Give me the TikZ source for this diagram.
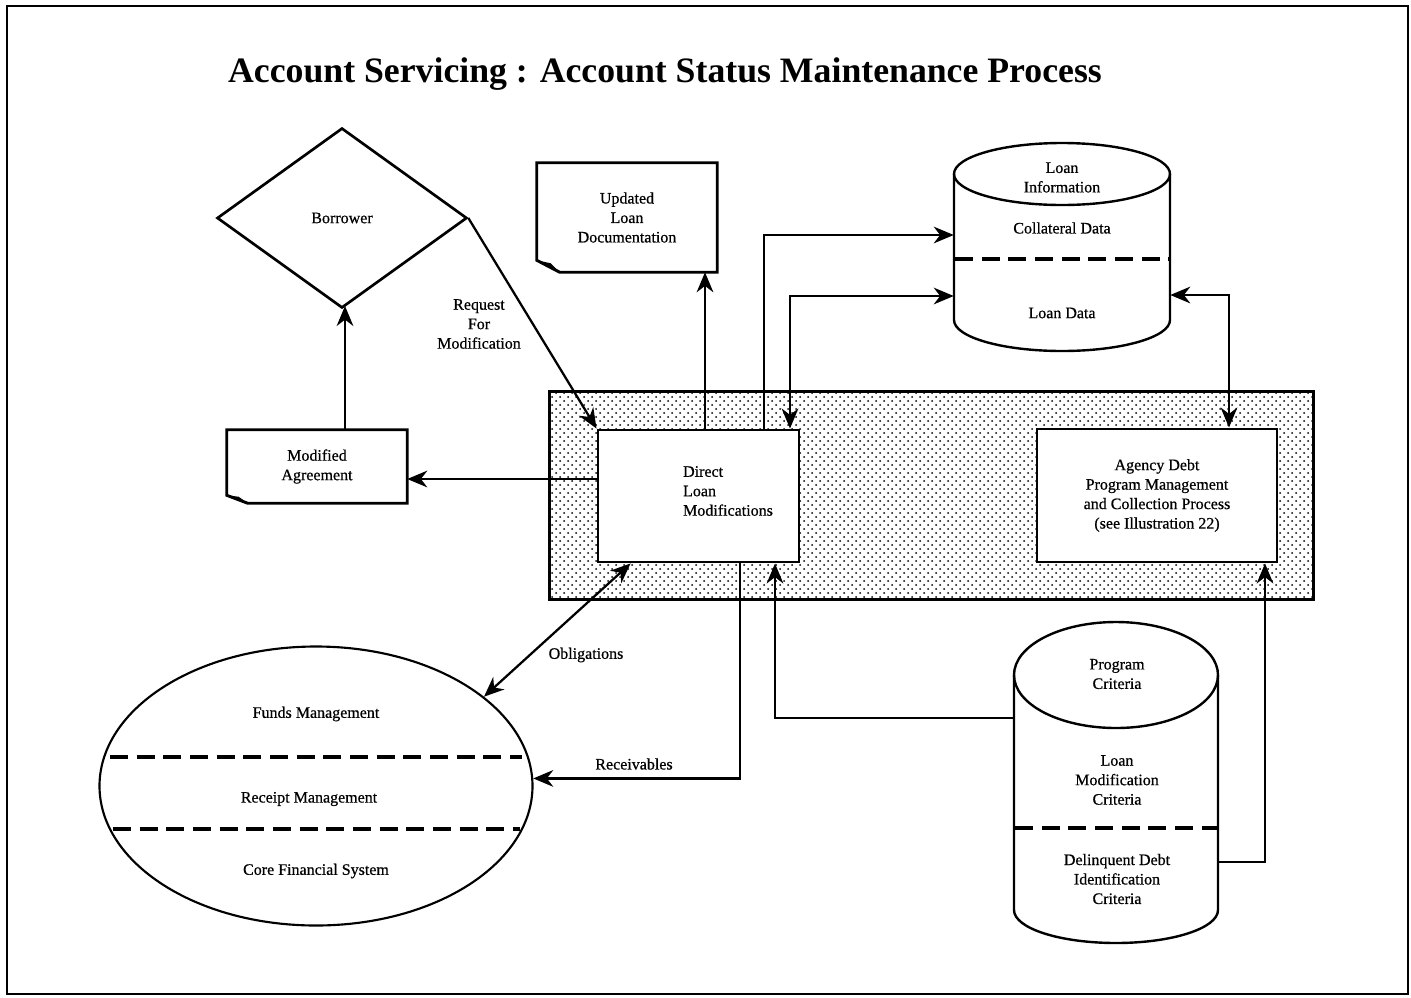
\documentclass[tikz,border=0pt]{standalone}
\usepackage{fontspec}
\setmainfont{Liberation Serif}
\newfontfamily\bodyfont{Liberation Serif}[FakeBold=0.6]
\usetikzlibrary{arrows.meta,shapes.geometric,patterns.meta,calc}
\def\pxu{0.75pt}
\tikzset{
  bt/.tip={Stealth[length=15pt,width=12.5pt,inset=4.8pt]},
  arr/.style={line width=1.7pt,-bt},
  darr/.style={line width=1.7pt,bt-bt},
  procbox/.style={draw,line width=2.2pt,fill=white,inner sep=0pt},
  docn/.style={draw=none,fill=white,inner sep=0pt,align=center},
  docline/.style={line width=2.2pt,line join=miter},
  cylline/.style={line width=1.8pt},
  sepline/.style={line width=3pt,dash pattern=on 13.5pt off 6.5pt},
  lbl/.style={align=center},
}
\begin{document}
\begin{tikzpicture}[x=0.75pt,y=-0.75pt,
  every node/.style={font=\bodyfont\fontsize{12}{14.6}\selectfont,inner sep=0pt}]
\useasboundingbox (0,0) rectangle (1411,997);
\draw[line width=1.1pt] (7,6) rectangle (1408,994);

% title
\node[font=\rmfamily\bfseries\fontsize{26.8}{30}\selectfont] (title) at (665,74)
  {Account Servicing : Account Status Maintenance Process};

% shaded process zone
\node[draw=none,minimum width=763*\pxu,minimum height=207*\pxu] (zone) at (931.5,495.5) {};
\path[pattern={Dots[distance=6pt,radius=0.75pt]}] (zone.north west) rectangle (zone.south east);
\path[pattern={Dots[distance=6pt,radius=0.75pt,xshift=3pt,yshift=3pt]}] (zone.north west) rectangle (zone.south east);
\draw[line width=2.2pt] (zone.north west) rectangle (zone.south east);

% process boxes
\node[procbox,minimum width=201*\pxu,minimum height=132*\pxu] (dlm) at (698.5,496) {};
\node[align=left] (dlmt) at (728,491) {Direct\\Loan\\Modifications};
\node[procbox,minimum width=240*\pxu,minimum height=133*\pxu,align=center] (adp) at (1157,495.5)
  {Agency Debt\\Program Management\\and Collection Process\\(see Illustration 22)};

% borrower
\node[diamond,draw,line width=2pt,minimum width=250*\pxu,minimum height=180*\pxu] (bor) at (342,218) {Borrower};

% documents
\node[docn,minimum width=180*\pxu,minimum height=109*\pxu] (upd) at (627,217.5) {Updated\\Loan\\Documentation};
\draw[docline] (upd.north west) -- (upd.north east) -- (upd.south east) -- ($(upd.south west)+(23,0)$) -- ($(upd.south west)+(0,-12)$) -- cycle;
\fill ($(upd.south west)+(0,-12)$) -- ($(upd.south west)+(14,-9)$) -- ($(upd.south west)+(23,0)$) -- cycle;

\node[docn,minimum width=180*\pxu,minimum height=73*\pxu] (mod) at (317,466.5) {Modified\\Agreement};
\draw[docline] (mod.north west) -- (mod.north east) -- (mod.south east) -- ($(mod.south west)+(21,0)$) -- ($(mod.south west)+(0,-8)$) -- cycle;
\fill ($(mod.south west)+(0,-8)$) -- ($(mod.south west)+(12,-6.5)$) -- ($(mod.south west)+(21,0)$) -- cycle;

% loan information cylinder
\node[draw=none,minimum width=216*\pxu,minimum height=208*\pxu] (linfo) at (1062,247) {};
\draw[cylline] (1062,174) ellipse [x radius=108,y radius=31];
\draw[cylline] (954,174) -- (954,320) arc[start angle=180,end angle=0,x radius=108,y radius=31] -- (1170,174);
\draw[sepline] (955,259) -- (1169,259);
\node[lbl] (lit) at (1062,177.5) {Loan\\Information};
\node[lbl] (lcd) at (1062,228) {Collateral Data};
\node[lbl] (lld) at (1062,313) {Loan Data};

% program criteria cylinder
\node[draw=none,minimum width=204*\pxu,minimum height=321*\pxu] (pcrit) at (1116,782.5) {};
\draw[cylline] (1116,675) ellipse [x radius=102,y radius=53];
\draw[cylline] (1014,675) -- (1014,910) arc[start angle=180,end angle=0,x radius=102,y radius=33] -- (1218,675);
\draw[sepline] (1015,828) -- (1217,828);
\node[lbl] (pct) at (1117,674) {Program\\Criteria};
\node[lbl] (pcl) at (1117,780) {Loan\\Modification\\Criteria};
\node[lbl] (pcd) at (1117,879) {Delinquent Debt\\Identification\\Criteria};

% core financial system
\node[ellipse,draw,line width=1.6pt,minimum width=433*\pxu,minimum height=279*\pxu] (fcs) at (316,786) {};
\draw[sepline] (110,757) -- (522,757);
\draw[sepline] (113,829) -- (520,829);
\node (fm) at (316,714) {Funds Management};
\node (rm) at (309,799) {Receipt Management};
\node (cf) at (316,871) {Core Financial System};

% connectors
\coordinate (borin) at (345,306);
\draw[arr] (bor.east) -- (dlm.north west);
\draw[arr] (705,0 |- dlm.north) -- (705,0 |- upd.south);
\draw[arr] (764,0 |- dlm.north) |- (linfo.west |- 0,235);
\draw[darr] (790,0 |- dlm.north) |- (linfo.west |- 0,296);
\draw[darr] (linfo.east |- 0,295) -| (1229,0 |- adp.north);
\draw[arr] (dlm.west |- 0,479) -- (mod.east |- 0,479);
\draw[arr] (345,0 |- mod.north) -- (borin);
\draw[darr] ($(dlm.south west)+(34,0)$) -- (fcs.28);
\draw[arr] (740,0 |- dlm.south) |- (fcs.2);
\draw[arr] (pcrit.west |- 0,718) -| (775,0 |- dlm.south);
\draw[arr] (pcrit.east |- 0,862) -| (1265,0 |- adp.south);

% connector labels
\node[lbl] (req) at (479,324) {Request\\For\\Modification};
\node (obl) at (586,655) {Obligations};
\node (rec) at (634,764) {Receivables};
\end{tikzpicture}
\end{document}
